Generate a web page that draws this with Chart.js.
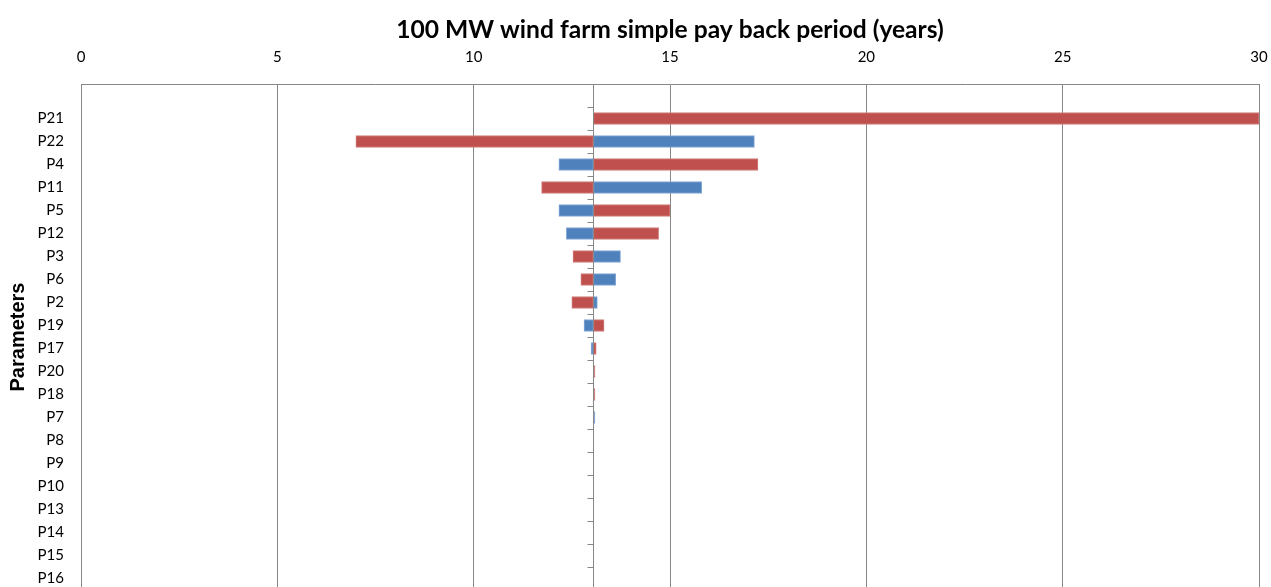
<!DOCTYPE html>
<html>
<head>
<meta charset="utf-8">
<script src="https://cdn.jsdelivr.net/npm/chart.js@4"></script>
<style>
  html, body { margin: 0; padding: 0; background: #fff; overflow: hidden; width: 1271px; height: 587px; }
  canvas { display: block; }
</style>
</head>
<body>
<canvas id="tornadoCanvas" width="1271" height="600"></canvas>
<script>
// base case pay back period (years)
const baseCase = 13.05;

const parameters = ['', 'P21', 'P22', 'P4', 'P11', 'P5', 'P12', 'P3', 'P6', 'P2', 'P19', 'P17',
  'P20', 'P18', 'P7', 'P8', 'P9', 'P10', 'P13', 'P14', 'P15', 'P16'];

// red series end values
const redValues = [null, 30, 7.0, 17.24, 11.73, 15.0, 14.71, 12.53, 12.73, 12.5, 13.32, 13.12,
  13.09, 13.09, null, null, null, null, null, null, null, null];

// blue series end values
const blueValues = [null, null, 17.15, 12.17, 15.81, 12.17, 12.36, 13.74, 13.62, 13.15, 12.81, 12.99,
  null, null, 13.09, null, null, null, null, null, null, null];

const xTicks = [0, 5, 10, 15, 20, 25, 30];

const labelFont = "Lato, 'Noto Sans', sans-serif";
const gridGrey = '#878787';

function toRange(v) {
  if (v === null) return null;
  return [Math.min(baseCase, v), Math.max(baseCase, v)];
}

// vertical axis drawn where the category axis crosses (base case)
const baseAxis = {
  id: 'baseAxis',
  afterDatasetsDraw(chart) {
    const ctx = chart.ctx;
    const x = chart.scales.x;
    const y = chart.scales.y;
    const px = Math.round(x.getPixelForValue(baseCase)) + 0.5;
    const step = y.getPixelForValue(1) - y.getPixelForValue(0);
    ctx.save();
    ctx.strokeStyle = gridGrey;
    ctx.lineWidth = 1;
    ctx.beginPath();
    ctx.moveTo(px, chart.chartArea.top);
    ctx.lineTo(px, chart.chartArea.bottom);
    for (let i = 1; i <= parameters.length; i++) {
      const ty = Math.round(y.getPixelForValue(i) - step / 2) + 0.5;
      ctx.moveTo(px - 6, ty);
      ctx.lineTo(px, ty);
    }
    ctx.stroke();
    ctx.restore();
  }
};

new Chart(document.getElementById('tornadoCanvas'), {
  type: 'bar',
  data: {
    labels: parameters,
    datasets: [
      {
        label: 'Series1',
        data: redValues.map(toRange),
        backgroundColor: '#C0504D',
        borderColor: '#CF7E7B',
        borderWidth: 1,
        borderSkipped: false,
        barThickness: 12
      },
      {
        label: 'Series2',
        data: blueValues.map(toRange),
        backgroundColor: '#4F81BD',
        borderColor: '#8AABD6',
        borderWidth: 1,
        borderSkipped: false,
        barThickness: 12
      }
    ]
  },
  options: {
    indexAxis: 'y',
    responsive: false,
    animation: false,
    grouped: false,
    layout: { padding: { left: 0, right: 12, top: 0, bottom: 10 } },
    plugins: {
      legend: { display: false },
      tooltip: { enabled: false }
    },
    scales: {
      x: {
        position: 'top',
        min: 0,
        max: 30,
        afterBuildTicks: s => { s.ticks = xTicks.map(v => ({ value: v })); },
        afterFit: s => { s.height = 84; s.paddingLeft = 0; s.paddingRight = 0; },
        grid: { color: gridGrey, drawTicks: false },
        border: { display: true, color: gridGrey },
        ticks: { color: '#000', padding: 18, font: { family: labelFont, size: 15 } },
        title: {
          display: true,
          text: '100 MW wind farm simple pay back period (years)',
          color: '#000',
          font: { family: labelFont, size: 24.6, weight: 'bold' },
          padding: { top: 15, bottom: 0 }
        }
      },
      y: {
        offset: true,
        afterFit: s => { s.width = 81; s.paddingTop = 0; s.paddingBottom = 0; },
        grid: { display: false, drawTicks: false },
        border: { display: true, color: gridGrey },
        ticks: { color: '#000', padding: 17, autoSkip: false, font: { family: labelFont, size: 15 } },
        title: {
          display: true,
          text: 'Parameters',
          color: '#000',
          font: { family: "'Liberation Sans', Arial, sans-serif", size: 20, weight: 'bold' },
          padding: { top: 6, bottom: 0 }
        }
      }
    }
  },
  plugins: [baseAxis]
});
</script>
</body>
</html>
